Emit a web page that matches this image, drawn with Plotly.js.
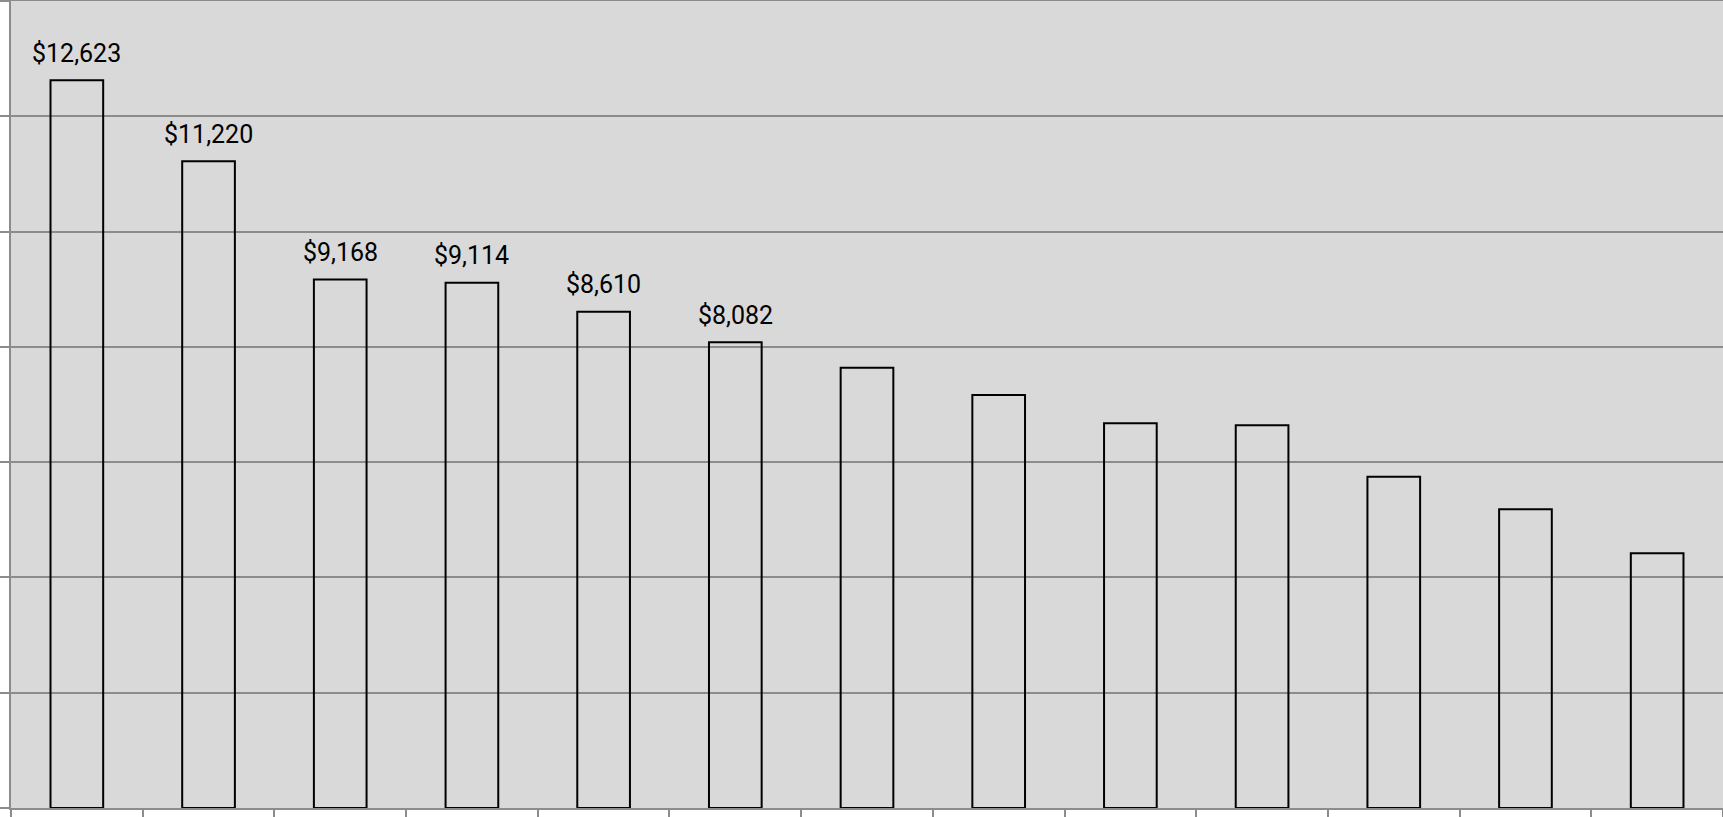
<!DOCTYPE html>
<html>
<head>
<meta charset="utf-8">
<script src="https://cdn.plot.ly/plotly-3.0.1.min.js"></script>
<style>
  html, body { margin: 0; padding: 0; background: #ffffff; }
  #chart { width: 1723px; height: 817px; }
</style>
</head>
<body>
<div id="chart"></div>
<script>
// Categories, ranked from highest to lowest value
const categories = ["Item 1", "Item 2", "Item 3", "Item 4", "Item 5", "Item 6", "Item 7",
                    "Item 8", "Item 9", "Item 10", "Item 11", "Item 12", "Item 13"];

// Dollar amounts per category
const values = [12623, 11220, 9168, 9114, 8610, 8082, 7638, 7165, 6674, 6639, 5747, 5182, 4419];

// Only the leading bars carry a value label
const labelledCount = 6;

// Value axis ticks
const yTickValues = [0, 2000, 4000, 6000, 8000, 10000, 12000, 14000];

const gridGrey = "#8c8c8c";

const fmt = v => "$" + v.toLocaleString("en-US");

const trace = {
  type: "bar",
  x: categories,
  y: values,
  marker: {
    color: "rgba(0,0,0,0)",
    line: { color: "#000000", width: 2 }
  },
  hoverinfo: "skip"
};

const annotations = values.slice(0, labelledCount).map((v, i) => ({
  x: categories[i],
  y: v,
  xref: "x",
  yref: "y",
  text: fmt(v),
  showarrow: false,
  yanchor: "middle",
  yshift: 27,
  font: { family: "Roboto, Noto Sans, sans-serif", size: 25, color: "#000000" }
}));

const layout = {
  width: 1723,
  height: 817,
  margin: { l: 11, r: 0, t: 1, b: 9, pad: 0 },
  paper_bgcolor: "#ffffff",
  plot_bgcolor: "#d9d9d9",
  bargap: 0.6,
  showlegend: false,
  xaxis: {
    type: "category",
    showticklabels: false,
    showgrid: false,
    zeroline: false,
    tickson: "boundaries",
    ticks: "outside",
    ticklen: 9,
    tickwidth: 2,
    tickcolor: gridGrey,
    showline: true,
    linecolor: gridGrey,
    linewidth: 2,
    mirror: true
  },
  yaxis: {
    range: [0, 14000],
    tickvals: yTickValues,
    showticklabels: false,
    showgrid: true,
    gridcolor: gridGrey,
    gridwidth: 2,
    zeroline: false,
    ticks: "outside",
    ticklen: 9,
    tickwidth: 2,
    tickcolor: gridGrey,
    showline: true,
    linecolor: gridGrey,
    linewidth: 2
  },
  annotations: annotations
};

Plotly.newPlot("chart", [trace], layout, { staticPlot: true, displayModeBar: false });
</script>
</body>
</html>
